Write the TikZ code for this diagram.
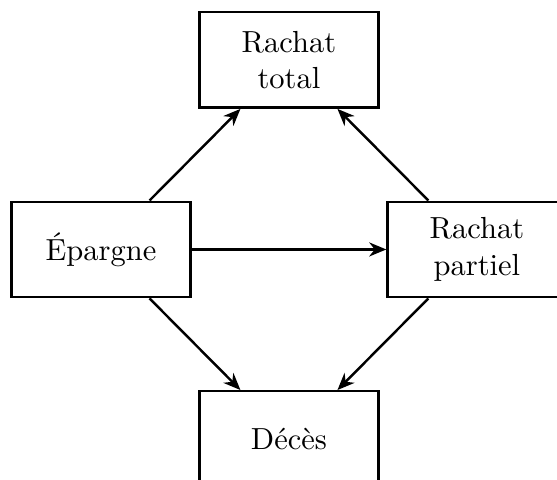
\documentclass[tikz,border=0pt]{standalone}
\usepackage{fontspec}
\usetikzlibrary{arrows.meta}

\begin{document}
\begin{tikzpicture} [
                auto,
                state/.style = {rectangle,draw,thick,align=center,minimum width=2.06cm,minimum height=1.1cm,inner sep=0pt},
                transition/.style = {draw,thick,-{Stealth[length=5.6pt,width=4.6pt,inset=1.8pt]}}
            ]
            \clip (-1.164,-2.656) rectangle (5.255,2.875);
            % First we draw the states
            \foreach \pos/\name/\lbl in {
                {(0,0)/epargne/Épargne}, {(2.166,2.184)/total/{Rachat\\total}},
                {(4.332,0)/partiel/{Rachat\\partiel}}, {(2.166,-2.184)/deces/Décès}}
                \node[state] (\name) at \pos {\lbl};
            % Connect states with transitions
            \foreach \source/ \dest in {epargne/total, epargne/partiel, epargne/deces,
                                         partiel/total, partiel/deces}
                \path[transition] (\source) -- (\dest);
        \end{tikzpicture}
\end{document}
